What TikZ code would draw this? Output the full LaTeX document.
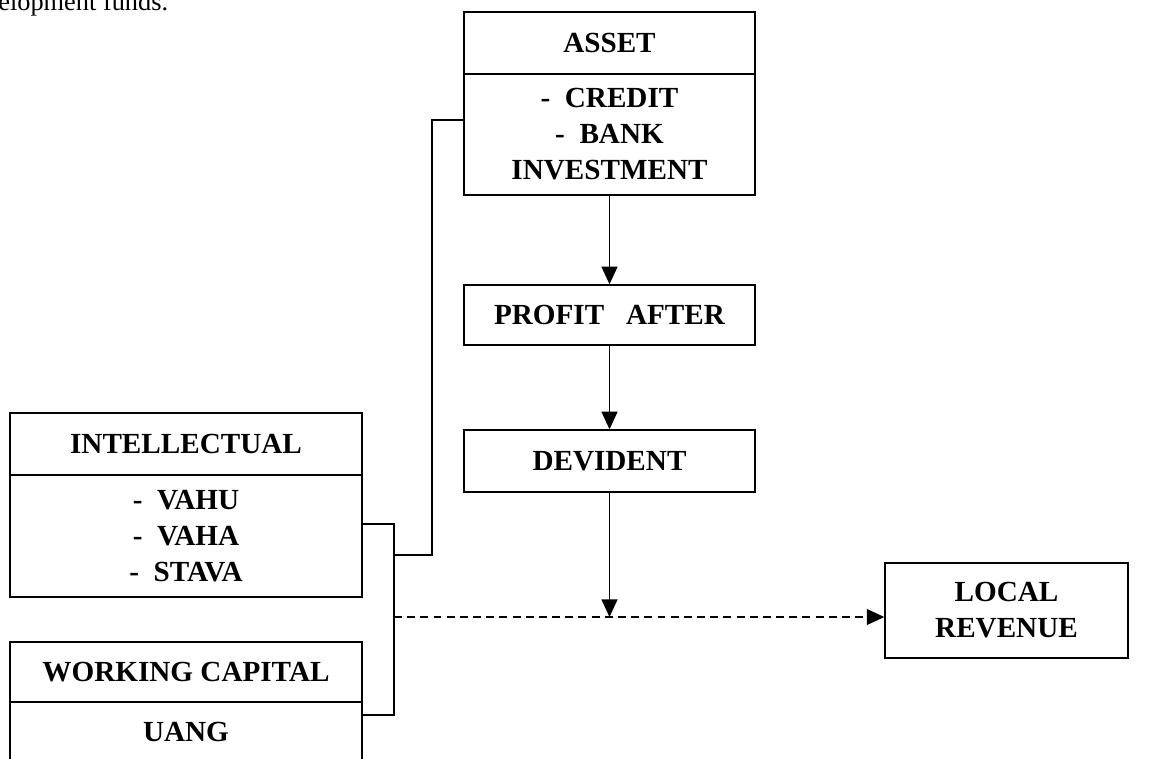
\documentclass[tikz,border=0pt]{standalone}
\usepackage{fontspec}
\setmainfont{Liberation Serif}
\usetikzlibrary{arrows.meta}

\begin{document}
\begin{tikzpicture}[x=0.02cm,y=-0.02cm,
  box/.style={rectangle,draw,line width=0.8pt,inner sep=0pt,align=center,
    font=\fontsize{16.6}{20.5}\selectfont\bfseries},
  link/.style={line width=1pt},
  >={Triangle[length=10pt,width=9pt]}]
\useasboundingbox (0,0) rectangle (1160,758);
\path (-2,10) node[anchor=base west,inner sep=0pt,font=\fontsize{15}{18}\selectfont] (intro) {elopment funds.};

\path (609.5,43) node[box,minimum width=5.82cm,minimum height=1.24cm] (asset) {ASSET};
\path (609.5,134.5) node[box,minimum width=5.82cm,minimum height=2.42cm] (assetbody) {-\ \ CREDIT\\-\ \ BANK\\INVESTMENT};

\path (609.5,315) node[box,minimum width=5.82cm,minimum height=1.2cm] (profit) {PROFIT\ \ \ AFTER};
\draw[link,->] (assetbody.south) -- (profit.north);

\path (609.5,461) node[box,minimum width=5.82cm,minimum height=1.24cm] (dividend) {DEVIDENT};
\draw[link,->] (profit.south) -- (dividend.north);

\path (1006.5,610.5) node[box,minimum width=4.86cm,minimum height=1.9cm] (local) {LOCAL\\REVENUE};

\path (186,444) node[box,minimum width=7.04cm,minimum height=1.24cm] (intel) {INTELLECTUAL};
\path (186,536) node[box,minimum width=7.04cm,minimum height=2.44cm] (intelbody) {-\ \ VAHU\\-\ \ VAHA\\-\ \ STAVA};

\path (186,672) node[box,minimum width=7.04cm,minimum height=1.2cm] (work) {WORKING CAPITAL};
\path (186,732) node[box,minimum width=7.04cm,minimum height=1.2cm] (workbody) {UANG};

% bracket joining the two left boxes
\coordinate (jtop) at (394,524);
\coordinate (jbot) at (394,715);
\coordinate (jmid) at (394,555);
\coordinate (jdash) at (394,617);
\coordinate (bend) at (432,120);
\draw[link] (intelbody.east |- jtop) -- (jtop) -- (jbot) -- (workbody.east |- jbot);
\draw[link] (jmid) -| (bend) -- (assetbody.west |- bend);

\draw[link,->] (dividend.south) -- (dividend.south |- jdash);
\draw[link,->,dash pattern=on 4.5pt off 3pt] (jdash) -- (local.west |- jdash);
\end{tikzpicture}
\end{document}
